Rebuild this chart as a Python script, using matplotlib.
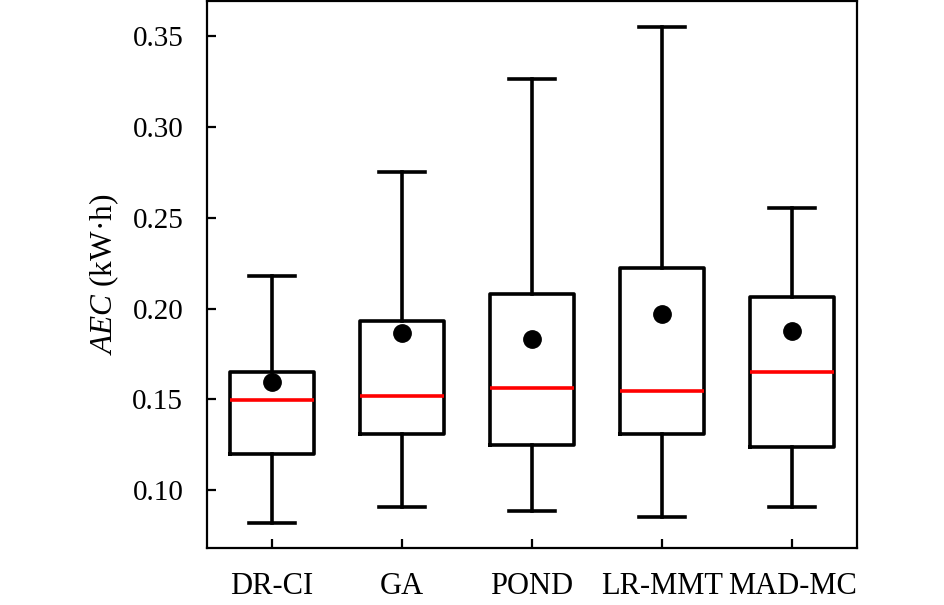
import matplotlib
matplotlib.use("Agg")
import matplotlib.pyplot as plt

plt.rcParams['font.family'] = ['Liberation Serif', 'DejaVu Serif']
plt.rcParams['mathtext.fontset'] = 'custom'
plt.rcParams['mathtext.rm'] = 'Liberation Serif'
plt.rcParams['mathtext.it'] = 'Liberation Serif:italic'

methods = ["DR-CI", "GA", "POND", "LR-MMT", "MAD-MC"]
whisker_low = [0.082, 0.091, 0.0886, 0.085, 0.0908]
q1 = [0.1198, 0.1311, 0.1251, 0.1309, 0.1238]
median = [0.1495, 0.152, 0.1562, 0.1546, 0.1648]
q3 = [0.165, 0.1934, 0.2081, 0.2225, 0.2066]
whisker_high = [0.218, 0.2753, 0.3265, 0.355, 0.2551]
mean = [0.1595, 0.1866, 0.183, 0.1971, 0.1879]

stats = []
for i in range(len(methods)):
    stats.append(dict(label=methods[i], whislo=whisker_low[i], q1=q1[i],
                      med=median[i], q3=q3[i], whishi=whisker_high[i],
                      mean=mean[i], fliers=[]))

fig = plt.figure(figsize=(9.45, 6.05), dpi=100)
ax = fig.add_axes([0.219, 0.094, 0.688, 0.904])

ax.bxp(stats, widths=0.65, capwidths=0.35, showmeans=True,
       boxprops=dict(color="black", linewidth=2.6),
       whiskerprops=dict(color="black", linewidth=2.6),
       capprops=dict(color="black", linewidth=2.6),
       medianprops=dict(color="red", linewidth=2.6),
       meanprops=dict(marker="o", markerfacecolor="black",
                      markeredgecolor="black", markersize=12.5))

ax.set_xlim(0.5, 5.5)
ax.set_ylim(0.0681, 0.3692)
ax.set_yticks([0.10, 0.15, 0.20, 0.25, 0.30, 0.35])
ax.set_yticklabels(["0.10", "0.15", "0.20", "0.25", "0.30", "0.35"])

for s in ax.spines.values():
    s.set_linewidth(1.6)
ax.tick_params(axis="both", direction="in", length=6.5, width=1.6,
               top=False, right=False)
ax.tick_params(axis="y", pad=17, labelsize=21)
ax.tick_params(axis="x", pad=17, labelsize=22)

ax.set_ylabel(r"$\it{AEC}$ (kW·h)", fontsize=22.5, labelpad=8)

fig.savefig("out.png", dpi=100)
